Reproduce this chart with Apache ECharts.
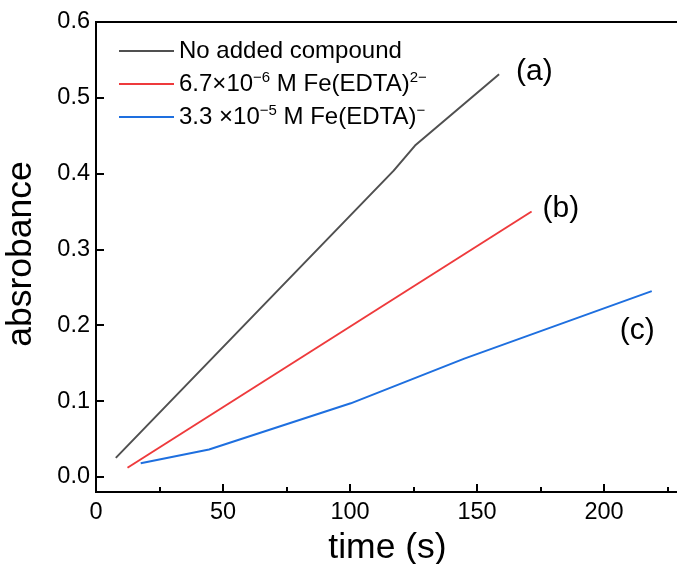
<!DOCTYPE html>
<html>
<head>
<meta charset="utf-8">
<script src="https://cdn.jsdelivr.net/npm/echarts@6/dist/echarts.min.js"></script>
<style>
  html, body { margin: 0; padding: 0; background: #fff; }
  #chart { width: 677px; height: 564px; }
</style>
</head>
<body>
<div id="chart"></div>
<script>
// data: [time (s), absorbance]
var seriesNames = ['No added compound', '6.7×10−6 M Fe(EDTA)2−', '3.3 ×10−5 M Fe(EDTA)−']
var legendRich = [
  'No added compound',
  '6.7×10{sup|−6} M Fe(EDTA){sup|2−}',
  '3.3 ×10{sup|−5} M Fe(EDTA){sup|−}'
]
var endTags = ['(a)', '(b)', '(c)']
var noCompound = [[7.8, 0.025], [117.2, 0.404], [125.6, 0.437], [158.7, 0.531]]
var feEdta2 = [[12.4, 0.012], [171.5, 0.350]]
var feEdta1 = [[17.6, 0.018], [44.5, 0.036], [100.3, 0.097], [145, 0.156], [218.8, 0.245]]
var yTicks = [0, 0.1, 0.2, 0.3, 0.4, 0.5, 0.6]

var colors = ['#505050', '#ee3a3c', '#1e6fdf']
var font = "'Liberation Sans', Arial, sans-serif"

var myChart = echarts.init(document.getElementById('chart'))

var seriesData = [noCompound, feEdta2, feEdta1]
var tagOffsets = [[9, -3], [3, -3], [-40, 40]]

var series = seriesData.map(function (d, i) {
  return {
    name: seriesNames[i],
    type: 'line',
    data: d,
    symbol: 'none',
    lineStyle: { width: 2, color: colors[i] },
    itemStyle: { color: colors[i] },
    animation: false,
    endLabel: {
      show: true,
      formatter: endTags[i],
      fontFamily: font,
      fontSize: 30,
      color: '#000',
      offset: tagOffsets[i]
    }
  }
})

myChart.setOption({
  animation: false,
  grid: {
    left: 96, top: 22, bottom: 72, right: -54,
    outerBoundsMode: 'none',
    containLabel: false,
    show: true, borderColor: '#000', borderWidth: 2
  },
  legend: {
    orient: 'vertical',
    left: 118, top: 37, padding: 0,
    itemWidth: 55, itemHeight: 14, itemGap: 5,
    data: seriesNames,
    itemStyle: { opacity: 0 },
    formatter: function (name) { return legendRich[seriesNames.indexOf(name)] },
    textStyle: {
      fontFamily: font, fontSize: 24, color: '#000', lineHeight: 28,
      rich: {
        sup: { fontFamily: font, fontSize: 15, lineHeight: 15, verticalAlign: 'top', color: '#000' }
      }
    }
  },
  xAxis: {
    type: 'value',
    min: 0, max: 250, interval: 50,
    name: 'time (s)',
    nameLocation: 'middle',
    nameGap: 37,
    nameTextStyle: { fontFamily: font, fontSize: 35.5, color: '#000', padding: [0, 52, 0, 0] },
    axisLine: { show: true, onZero: false, lineStyle: { color: '#000', width: 2 } },
    axisTick: { show: true, inside: true, length: 8, lineStyle: { color: '#000', width: 2 } },
    minorTick: { show: true, splitNumber: 2, length: 5, lineStyle: { color: '#000', width: 2 } },
    axisLabel: { fontFamily: font, fontSize: 23.5, color: '#000', margin: 9 },
    splitLine: { show: false }
  },
  yAxis: {
    type: 'value',
    min: -0.02, max: 0.6,
    name: 'absrobance',
    nameLocation: 'middle',
    nameGap: 57,
    nameTextStyle: { fontFamily: font, fontSize: 35.5, color: '#000', padding: [0, 0, 0, 6] },
    axisLine: { show: true, onZero: false, lineStyle: { color: '#000', width: 2 } },
    axisTick: { show: true, inside: true, length: 8, customValues: yTicks, lineStyle: { color: '#000', width: 2 } },
    axisLabel: {
      fontFamily: font, fontSize: 23.5, color: '#000', margin: 6,
      customValues: yTicks,
      formatter: function (v) { return v.toFixed(1) }
    },
    splitLine: { show: false }
  },
  series: series
})
</script>
</body>
</html>
